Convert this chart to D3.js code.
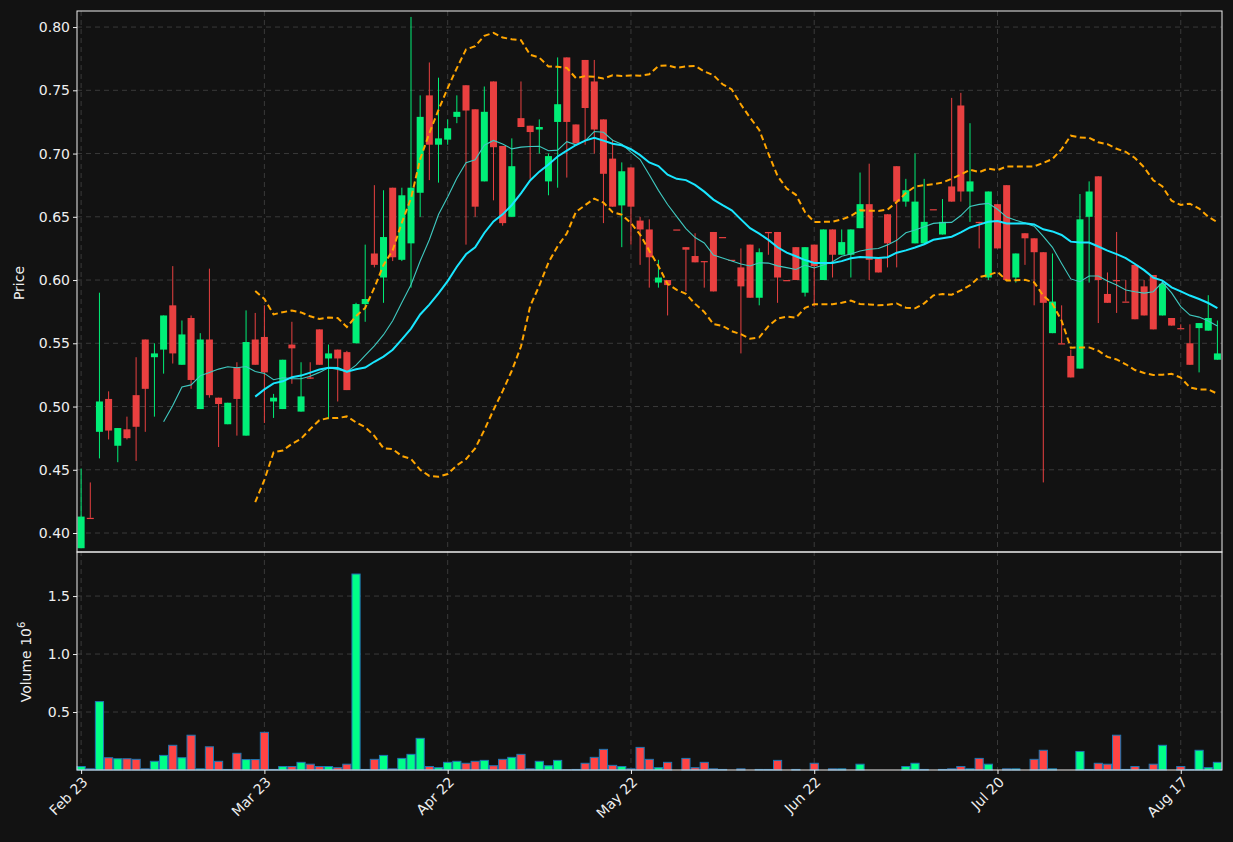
<!DOCTYPE html>
<html>
<head>
<meta charset="utf-8">
<script src="https://cdn.jsdelivr.net/npm/d3@7"></script>
<style>
  body { margin:0; background:#121212; }
  text { font-family: "DejaVu Sans", sans-serif; }
</style>
</head>
<body>
<script>
// daily OHLC, one entry per trading day
var opens  = [.388,.412,.48,.506,.469,.482,.509,.553,.539,.545,.58,.533,.57,.498,.553,.507,.486,.531,.477,.553,
              .555,.504,.498,.549,.496,.523,.561,.538,.545,.543,.550,.581,.621,.602,.673,.616,.629,.669,.746,.707,
              .711,.729,.754,.735,.678,.757,.706,.65,.728,.722,.719,.678,.725,.776,.723,.774,.757,.727,.696,.659,
              .689,.647,.64,.598,.60,.64,.626,.619,.615,.638,.634,.616,.61,.628,.586,.638,.638,.60,.626,.59,
              .628,.60,.64,.62,.62,.641,.66,.617,.652,.69,.662,.629,.629,.656,.636,.674,.738,.67,.646,.602,
              .66,.675,.602,.637,.633,.622,.558,.55,.54,.53,.65,.682,.589,.60,.583,.612,.595,.604,.572,.57,
              .562,.55,.562,.56,.537];
var closes = [.413,.412,.504,.481,.483,.475,.484,.514,.542,.572,.542,.557,.521,.553,.509,.502,.503,.506,.551,.533,
              .527,.507,.537,.546,.508,.522,.533,.542,.538,.513,.581,.585,.612,.634,.618,.667,.673,.729,.707,.712,
              .72,.733,.734,.658,.733,.705,.645,.69,.721,.717,.721,.698,.739,.725,.708,.736,.719,.684,.658,.686,
              .658,.64,.618,.602,.596,.64,.624,.614,.615,.591,.634,.616,.595,.586,.622,.637,.602,.60,.60,.626,
              .611,.64,.62,.63,.64,.66,.616,.606,.629,.662,.671,.662,.646,.656,.646,.662,.67,.678,.645,.67,
              .625,.60,.621,.633,.622,.582,.583,.55,.523,.648,.67,.60,.582,.60,.583,.569,.572,.561,.597,.564,
              .562,.533,.566,.57,.542];
var highs  = [.451,.44,.59,.512,.483,.492,.539,.553,.55,.572,.611,.568,.572,.558,.609,.507,.503,.535,.576,.574,
              .58,.51,.537,.567,.535,.535,.561,.549,.545,.544,.582,.628,.675,.671,.673,.673,.808,.746,.772,.76,
              .727,.746,.754,.735,.753,.757,.706,.712,.757,.722,.727,.70,.776,.776,.723,.774,.774,.727,.711,.693,
              .689,.65,.648,.616,.60,.64,.626,.637,.615,.638,.634,.616,.625,.628,.625,.638,.638,.60,.626,.626,
              .628,.64,.64,.64,.64,.685,.692,.617,.652,.69,.68,.70,.68,.656,.664,.744,.748,.724,.646,.67,
              .66,.675,.621,.637,.633,.622,.621,.58,.545,.668,.678,.682,.606,.638,.60,.612,.60,.604,.60,.57,
              .565,.565,.566,.588,.568];
var lows   = [.388,.412,.459,.474,.456,.474,.457,.48,.492,.526,.534,.533,.514,.498,.507,.468,.486,.477,.477,.533,
              .487,.491,.498,.518,.496,.522,.533,.49,.504,.513,.550,.567,.61,.582,.615,.615,.594,.65,.679,.677,
              .707,.724,.628,.65,.678,.663,.643,.65,.721,.68,.70,.667,.673,.681,.708,.707,.70,.645,.658,.626,
              .628,.612,.594,.594,.572,.64,.591,.614,.594,.591,.634,.616,.542,.586,.58,.62,.582,.60,.60,.587,
              .579,.60,.602,.62,.602,.641,.60,.606,.61,.61,.658,.629,.629,.656,.636,.662,.662,.646,.625,.60,
              .625,.60,.598,.612,.58,.44,.558,.55,.523,.53,.598,.566,.582,.574,.583,.569,.572,.561,.572,.564,
              .562,.533,.527,.56,.537];
// volume in millions
var volumes = [.03,.01,.59,.106,.097,.097,.092,.01,.075,.126,.213,.106,.30,.01,.20,.075,.005,.144,.09,.09,
               .325,.005,.03,.03,.066,.05,.03,.03,.02,.05,1.69,.005,.092,.126,.01,.10,.135,.273,.03,.02,
               .066,.075,.058,.075,.083,.037,.092,.109,.135,.01,.075,.037,.083,.002,.005,.058,.109,.178,.04,.03,
               .01,.195,.092,.02,.066,0,.10,.02,.066,.01,.005,0,.01,0,.005,.005,.083,0,.005,0,
               .058,0,.01,.01,0,.05,0,0,0,0,.03,.058,.005,0,.005,.01,.03,.01,.10,.05,
               0,.01,.01,0,.092,.17,.01,0,0,.16,.005,.058,.05,.30,.005,.03,.005,.05,.213,0,
               .03,.005,.17,.02,.066];
var tickIdx    = [0,20,40,60,80,100,120];
var tickLabels = ["Feb 23","Mar 23","Apr 22","May 22","Jun 22","Jul 20","Aug 17"];

var W = 1233, H = 842;
var left = 77, right = 1222, pTop = 11, pBot = 552, vBot = 770;
var upC = "#00ee77", downC = "#e84040";

var svg = d3.select("body").append("svg").attr("width",W).attr("height",H)
  .style("background","#121212");

var n = closes.length;
var x = d3.scaleLinear().domain([-0.45, n-0.5]).range([left,right]);
var y = d3.scaleLinear().domain([0.385, 0.8127]).range([pBot,pTop]);
var yv = d3.scaleLinear().domain([0, 1.88]).range([vBot,pBot]);
var step = x(1)-x(0);

// moving averages and bollinger bands from closes
function sma(k){
  return closes.map(function(c,i){
    if (i<k-1) return null;
    return d3.mean(closes.slice(i-k+1,i+1));
  });
}
var ma10 = sma(10), ma20 = sma(20);
var bbUp = [], bbLo = [];
closes.forEach(function(c,i){
  if (i<19){ bbUp.push(null); bbLo.push(null); return; }
  var w = closes.slice(i-19,i+1), m = d3.mean(w);
  var sd = Math.sqrt(d3.mean(w, function(v){return (v-m)*(v-m);}));
  bbUp.push(m+2*sd); bbLo.push(m-2*sd);
});

// grids
var gridC = "#3a3a3a";
svg.append("g").selectAll("line").data([0.40,0.45,0.50,0.55,0.60,0.65,0.70,0.75,0.80]).enter()
  .append("line").attr("x1",left).attr("x2",right).attr("y1",function(d){return y(d);}).attr("y2",function(d){return y(d);})
  .attr("stroke",gridC).attr("stroke-dasharray","5,4");
svg.append("g").selectAll("line").data([0.5,1.0,1.5]).enter()
  .append("line").attr("x1",left).attr("x2",right).attr("y1",function(d){return yv(d);}).attr("y2",function(d){return yv(d);})
  .attr("stroke",gridC).attr("stroke-dasharray","5,4");
svg.append("g").selectAll("line").data(tickIdx).enter()
  .append("line").attr("x1",function(d){return x(d);}).attr("x2",function(d){return x(d);})
  .attr("y1",pTop).attr("y2",vBot).attr("stroke",gridC).attr("stroke-dasharray","5,4");

// volume
svg.append("g").selectAll("rect").data(volumes).enter().append("rect")
  .attr("x",function(d,i){return x(i)-step/2+0.5;})
  .attr("width",step-1)
  .attr("y",function(d){return yv(d);})
  .attr("height",function(d){return vBot-yv(d);})
  .attr("fill",function(d,i){return closes[i]>opens[i]||i===0 ? "#00ff88" : "#ff4444";})
  .attr("stroke",function(d){return d>0 ? "#1f77b4" : "none";}).attr("stroke-width",1);

// candles
var cg = svg.append("g");
var color = function(i){ return closes[i]>opens[i] ? upC : downC; };
cg.selectAll("line").data(closes).enter().append("line")
  .attr("x1",function(d,i){return x(i);}).attr("x2",function(d,i){return x(i);})
  .attr("y1",function(d,i){return y(highs[i]);}).attr("y2",function(d,i){return y(lows[i]);})
  .attr("stroke",function(d,i){return color(i);}).attr("stroke-width",1);
cg.selectAll("rect").data(closes).enter().append("rect")
  .attr("x",function(d,i){return x(i)-3.5;}).attr("width",7)
  .attr("y",function(d,i){return y(Math.max(opens[i],closes[i]));})
  .attr("height",function(d,i){return Math.max(1.2, Math.abs(y(opens[i])-y(closes[i])));})
  .attr("fill",function(d,i){return color(i);});

// overlays
function drawLine(arr, col, w, dash){
  var line = d3.line().defined(function(d){return d!==null;})
    .x(function(d,i){return x(i);}).y(function(d){return y(d);});
  svg.append("path").datum(arr).attr("d",line).attr("fill","none")
    .attr("stroke",col).attr("stroke-width",w).attr("stroke-dasharray",dash||null);
}
drawLine(ma10,"#3fc9c0",1.1);
drawLine(ma20,"#19e6ff",2);
drawLine(bbUp,"#ffa500",2,"6,3.5");
drawLine(bbLo,"#ffa500",2,"6,3.5");

// frames
svg.append("rect").attr("x",left).attr("y",pTop).attr("width",right-left).attr("height",pBot-pTop)
  .attr("fill","none").attr("stroke","#eee");
svg.append("rect").attr("x",left).attr("y",pBot).attr("width",right-left).attr("height",vBot-pBot)
  .attr("fill","none").attr("stroke","#eee");

// axes
var yAxis = d3.axisLeft(y).tickValues([0.40,0.45,0.50,0.55,0.60,0.65,0.70,0.75,0.80]).tickFormat(d3.format(".2f")).tickSize(4);
var ga = svg.append("g").attr("transform","translate("+left+",0)").call(yAxis);
var yvAxis = d3.axisLeft(yv).tickValues([0.5,1.0,1.5]).tickFormat(d3.format(".1f")).tickSize(4);
var gb = svg.append("g").attr("transform","translate("+left+",0)").call(yvAxis);
var xAxis = d3.axisBottom(x).tickValues(tickIdx).tickFormat(function(d,i){return tickLabels[i];}).tickSize(4);
var gx = svg.append("g").attr("transform","translate(0,"+vBot+")").call(xAxis);
gx.selectAll("text").attr("text-anchor","end").attr("dx","-0.3em").attr("dy","0.5em")
  .attr("transform","rotate(-45)");
[ga,gb,gx].forEach(function(g){
  g.select(".domain").remove();
  g.selectAll("line").attr("stroke","#eee");
  g.selectAll("text").attr("fill","#eee").style("font-size","14px").style("font-family","DejaVu Sans");
});

svg.append("text").attr("transform","translate(24,283) rotate(-90)").attr("text-anchor","middle")
  .attr("fill","#eee").style("font-size","14px").text("Price");
var vl = svg.append("text").attr("transform","translate(31,662) rotate(-90)").attr("text-anchor","middle")
  .attr("fill","#eee").style("font-size","14px");
vl.append("tspan").text("Volume  10");
vl.append("tspan").attr("dy","-6").style("font-size","10px").text("6");
</script>
</body>
</html>
